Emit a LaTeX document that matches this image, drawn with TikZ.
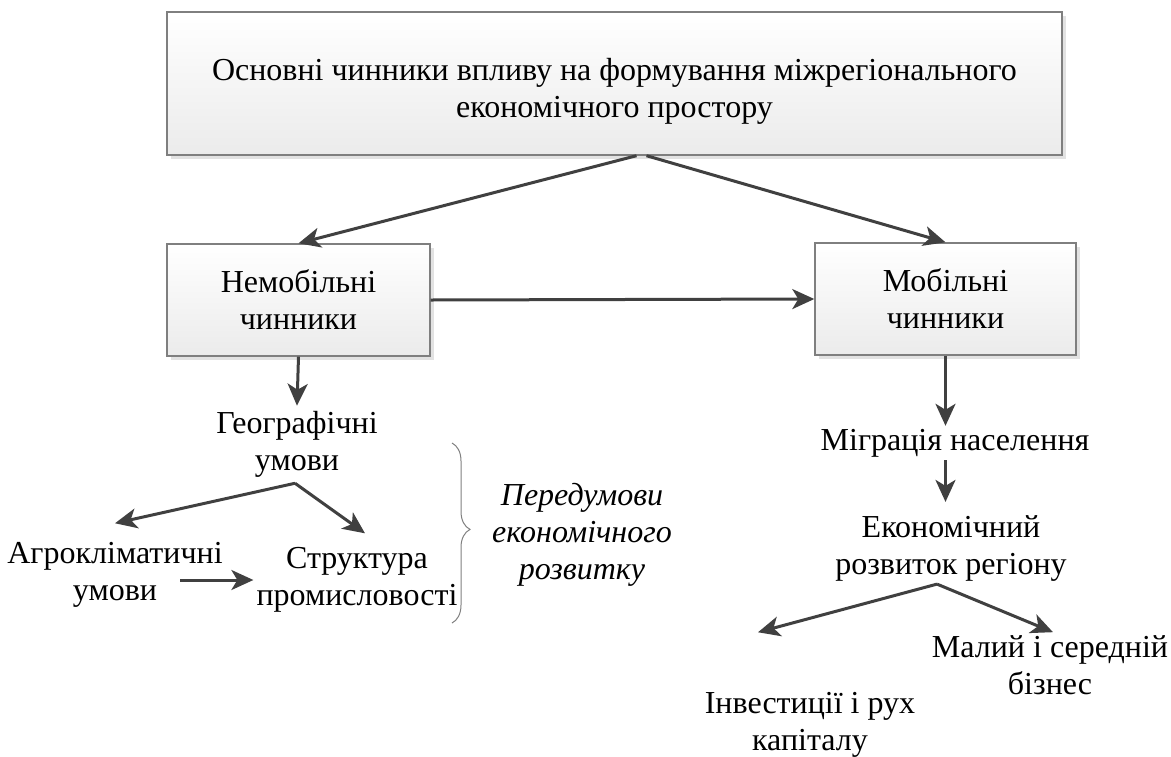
\documentclass[tikz,border=0pt]{standalone}
\usepackage{fontspec}
\setmainfont{Liberation Serif}
\usetikzlibrary{arrows.meta,decorations.pathreplacing,calc,shadows}
\definecolor{boxline}{HTML}{7F7F7F}
\definecolor{boxbot}{HTML}{EBEBEB}
\definecolor{shadowc}{HTML}{E2E2E2}
\definecolor{arrc}{HTML}{404040}
\begin{document}
\begin{tikzpicture}[x=1pt,y=-1pt,
  font=\fontsize{32}{37}\selectfont,
  box/.style={draw=boxline, line width=1.4pt, top color=white, bottom color=boxbot,
    align=center, inner sep=0pt,
    drop shadow={shadow xshift=4pt, shadow yshift=-4pt, fill=shadowc, opacity=1}},
  txt/.style={align=center, inner sep=3pt},
  arr/.style={draw=arrc, line width=3pt, -{Stealth[length=22pt,width=20pt,inset=6pt]}},
  bracestyle/.style={draw=boxline, line width=1pt,
    decorate, decoration={brace, amplitude=18pt, aspect=0.48}}
]
\useasboundingbox (0,0) rectangle (1171,756);

\node[box, minimum width=895pt, minimum height=143pt] (top) at (614.5,83.5) {};
\node[txt] (toptext) at (614.5,91)
  {Основні чинники впливу на формування міжрегіонального\\економічного простору};
\node[box, minimum width=263pt, minimum height=112pt] (nem) at (298.5,300)
  {Немобільні\\чинники};
\node[box, minimum width=261pt, minimum height=112pt] (mob) at (945.5,299)
  {Мобільні\\чинники};

\node[txt] (geo) at (297,444) {Географічні\\умови};
\node[txt] (agro) at (115,575) {Агрокліматичні\\умови};
\node[txt] (struct) at (357,580) {Структура\\промисловості};
\node[txt, font=\fontsize{32}{37}\selectfont\itshape] (pre) at (582,535)
  {Передумови\\економічного\\розвитку};
\coordinate (brtop) at (452,443);
\coordinate (brbot) at (452,623);

\node[txt] (mig) at (955,443) {Міграція населення};
\node[txt] (eco) at (951,548) {Економічний\\розвиток регіону};
\node[txt] (biz) at (1050,665) {Малий і середній\\бізнес};
\node[txt] (inv) at (810,725) {Інвестиції і рух\\капіталу};

\draw[arr] ([xshift=22pt]top.south) -- (nem.north);
\draw[arr] ([xshift=32pt]top.south) -- (mob.north);
\draw[arr] (nem.east) -- (mob.west);

\draw[arr] (nem.south) -- ([yshift=2pt]geo.north);
\draw[arr] ([xshift=-2pt,yshift=-3pt]geo.south) -- ([yshift=16pt]agro.north);
\draw[arr] ([xshift=-2pt,yshift=-3pt]geo.south) -- ([xshift=8pt,yshift=11pt]struct.north);
\draw[arr] ([xshift=65pt,yshift=-5pt]agro.center) -- (struct.west);
\draw[bracestyle] (brtop) -- (brbot);

\draw[arr] (mob.south) -- (mob.south |- mig.north);
\draw[arr] (mob.south |- mig.south) -- ($(mob.south |- eco.north)+(0,-10)$);
\draw[arr] ([xshift=-14pt]eco.south) -- ([xshift=-52pt,yshift=57pt]inv.north);
\draw[arr] ([xshift=-14pt]eco.south) -- ([xshift=3pt]biz.north);
\end{tikzpicture}
\end{document}
